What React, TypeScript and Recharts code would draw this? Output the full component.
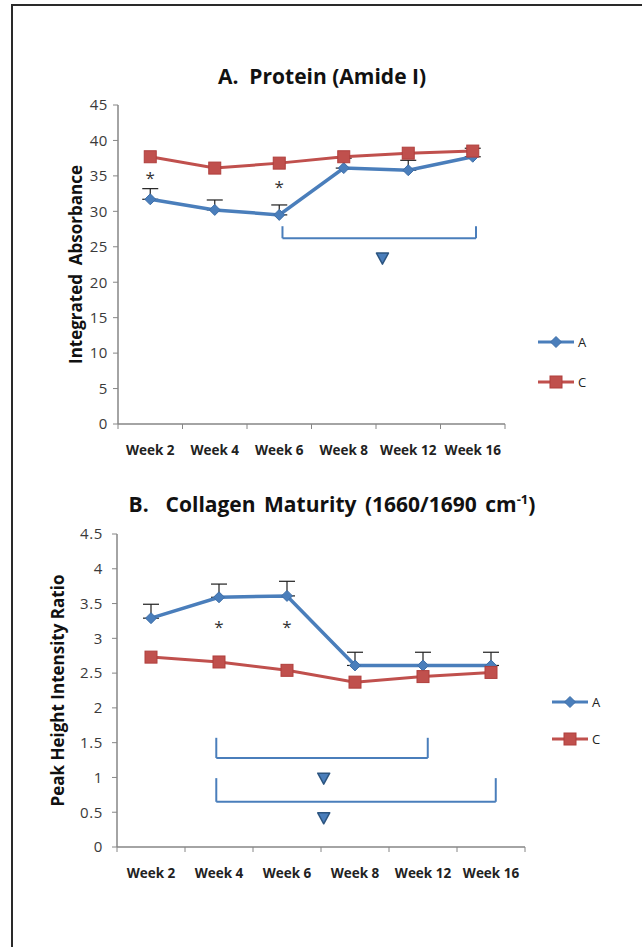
import { ErrorBar, Legend, Line, LineChart, ReferenceDot, ReferenceLine, XAxis, YAxis } from "recharts";

const categories = ["Week 2", "Week 4", "Week 6", "Week 8", "Week 12", "Week 16"];

// A. Protein (Amide I)
const proteinA = [31.7, 30.2, 29.5, 36.1, 35.8, 37.7];
const proteinAErr = [1.5, 1.4, 1.4, 1.4, 1.4, 1.2];
const proteinC = [37.7, 36.1, 36.8, 37.7, 38.2, 38.5];
const proteinTicks = [0, 5, 10, 15, 20, 25, 30, 35, 40, 45];
const proteinStarWeeks = ["Week 2", "Week 6"];
const proteinStarY = [34.7, 33.4];

// B. Collagen maturity
const collagenA = [3.29, 3.59, 3.61, 2.61, 2.61, 2.61];
const collagenAErr = [0.2, 0.19, 0.21, 0.19, 0.19, 0.19];
const collagenC = [2.73, 2.66, 2.54, 2.37, 2.45, 2.51];
const collagenTicks = [0, 0.5, 1, 1.5, 2, 2.5, 3, 3.5, 4, 4.5];
const collagenStarWeeks = ["Week 4", "Week 6"];
const collagenStarY = [3.16, 3.16];

// significance brackets: [from, to, y, top of the ends] and triangle [x, y], in axis units
const proteinBrackets = [[2.55, 5.55, 26.2, 27.9]];
const proteinMarks = [[4.1, 23.4]];
const collagenBrackets = [
  [1.46, 4.57, 1.28, 1.57],
  [1.46, 5.57, 0.65, 0.99],
];
const collagenMarks = [
  [3.04, 0.99],
  [3.04, 0.42],
];

const BLUE = "#4A7EBB";
const RED = "#C0504D";
const AXIS = "#868686";
const FONT = "'Open Sans', 'DejaVu Sans', sans-serif";
const xTicks = [0, 0.5, 1, 1.5, 2, 2.5, 3, 3.5, 4, 4.5, 5, 5.5, 6];

const series = [
  { key: "A", color: BLUE, shape: "diamond" },
  { key: "C", color: RED, shape: "square" },
];

function buildRows(a: number[], aErr: number[], c: number[]) {
  return categories.map((name, i) => ({ pos: i + 0.5, name, A: a[i], AErr: [0, aErr[i]], C: c[i] }));
}

const Diamond = (props: any) => {
  const { cx, cy } = props;
  if (cx == null || cy == null) return <g key={props.key} />;
  return <path key={props.key} d={`M${cx} ${cy - 5.5}L${cx + 5.5} ${cy}L${cx} ${cy + 5.5}L${cx - 5.5} ${cy}Z`} fill={BLUE} stroke="#3E6FA8" strokeWidth={1} />;
};

const Square = (props: any) => {
  const { cx, cy } = props;
  if (cx == null || cy == null) return <g key={props.key} />;
  return <rect key={props.key} x={cx - 6} y={cy - 6} width={12} height={12} fill={RED} stroke="#B03F3C" strokeWidth={1} />;
};

const WeekTick = (props: any) => {
  const { x, y, payload } = props;
  const v = payload.value;
  if (Number.isInteger(v)) return <line x1={x} y1={y} x2={x} y2={y + 5} stroke={AXIS} strokeWidth={1} />;
  return (
    <text x={x} y={y + 26} textAnchor="middle" dominantBaseline="central" fontFamily={FONT} fontSize={13.5} fontWeight={700} fill="#222">
      {categories[Math.floor(v)]}
    </text>
  );
};

const Star = (props: any) => (
  <text x={props.cx} y={props.cy + 6} textAnchor="middle" fontFamily={FONT} fontSize={17} fill="#333">
    *
  </text>
);

const Triangle = (props: any) => {
  const { cx, cy } = props;
  return <path d={`M${cx - 6} ${cy - 5}L${cx + 6} ${cy - 5}L${cx} ${cy + 6}Z`} fill={BLUE} stroke="#2C5580" strokeWidth={1.5} strokeLinejoin="round" />;
};

const yTitle = (text: string, x: number, size: number) => (props: any) => {
  const vb = props.viewBox;
  const cy = vb.y + vb.height / 2;
  return (
    <text transform={`rotate(-90 ${x} ${cy})`} x={x} y={cy} textAnchor="middle" dominantBaseline="central" fontFamily={FONT} fontSize={size} fontWeight={700} fill="#111" style={{ whiteSpace: "pre" }}>
      {text}
    </text>
  );
};

const LegendBox = ({ gap }: { gap: number }) => (
  <div style={{ fontFamily: FONT, fontSize: 13, color: "#222" }}>
    {series.map((s) => (
      <div key={s.key} style={{ display: "flex", alignItems: "center", height: 14, marginBottom: gap }}>
        <svg width={36} height={14}>
          <line x1={0} y1={7} x2={36} y2={7} stroke={s.color} strokeWidth={3} />
          {s.shape === "diamond" ? <Diamond cx={18} cy={7} /> : <Square cx={18} cy={7} />}
        </svg>
        <span style={{ marginLeft: 4 }}>{s.key}</span>
      </div>
    ))}
  </div>
);

function Panel({
  rows,
  ticks,
  max,
  height,
  margin,
  yLabel,
  yLabelX,
  yLabelSize,
  starWeeks,
  starY,
  brackets,
  marks,
  legendPos,
  legendGap,
  tickMargin,
}: any) {
  return (
    <LineChart width={642} height={height} data={rows} margin={margin}>
      <XAxis
        type="number"
        dataKey="pos"
        domain={[0, 6]}
        ticks={xTicks}
        interval={0}
        tick={WeekTick}
        tickLine={false}
        tickSize={0}
        tickMargin={0}
        height={30}
        axisLine={{ stroke: AXIS, strokeWidth: 1.5 }}
      />
      <YAxis
        type="number"
        domain={[0, max]}
        ticks={ticks}
        interval={0}
        width={60}
        tickSize={5}
        tickMargin={tickMargin}
        tick={{ fontFamily: FONT, fontSize: 15, fill: "#3a3a3a", letterSpacing: 0.6 }}
        tickLine={{ stroke: AXIS }}
        axisLine={{ stroke: AXIS, strokeWidth: 1.5 }}
        label={yTitle(yLabel, yLabelX, yLabelSize)}
      />
      {brackets.map((b: number[], i: number) => (
        <ReferenceLine key={`h${i}`} segment={[{ x: b[0], y: b[2] }, { x: b[1], y: b[2] }]} stroke={BLUE} strokeWidth={2} />
      ))}
      {brackets.map((b: number[], i: number) => (
        <ReferenceLine key={`l${i}`} segment={[{ x: b[0], y: b[2] }, { x: b[0], y: b[3] }]} stroke={BLUE} strokeWidth={2} />
      ))}
      {brackets.map((b: number[], i: number) => (
        <ReferenceLine key={`r${i}`} segment={[{ x: b[1], y: b[2] }, { x: b[1], y: b[3] }]} stroke={BLUE} strokeWidth={2} />
      ))}
      {marks.map((m: number[], i: number) => (
        <ReferenceDot key={`m${i}`} x={m[0]} y={m[1]} r={6} shape={Triangle} />
      ))}
      {starWeeks.map((w: string, i: number) => (
        <ReferenceDot key={`s${i}`} x={categories.indexOf(w) + 0.5} y={starY[i]} r={4} shape={Star} />
      ))}
      <Line type="linear" dataKey="A" name="A" stroke={BLUE} strokeWidth={3.5} dot={Diamond} activeDot={false} isAnimationActive={false}>
        <ErrorBar dataKey="AErr" direction="y" width={8} stroke="#1f1f1f" strokeWidth={1.2} isAnimationActive={false} />
      </Line>
      <Line type="linear" dataKey="C" name="C" stroke={RED} strokeWidth={3} dot={Square} activeDot={false} isAnimationActive={false} />
      <Legend
        layout="vertical"
        align="center"
        verticalAlign="middle"
        wrapperStyle={{ left: legendPos[0], top: legendPos[1], width: 70 }}
        content={() => <LegendBox gap={legendGap} />}
      />
    </LineChart>
  );
}

export default function App() {
  const proteinRows = buildRows(proteinA, proteinAErr, proteinC);
  const collagenRows = buildRows(collagenA, collagenAErr, collagenC);
  const titleStyle = {
    position: "absolute" as const,
    width: 520,
    textAlign: "center" as const,
    fontFamily: FONT,
    fontWeight: 700,
    fontSize: 21,
    color: "#111",
    whiteSpace: "pre" as const,
  };
  return (
    <div style={{ position: "absolute", left: 0, top: 0, width: 642, height: 947, background: "#fff", overflow: "hidden" }}>
      <div style={{ position: "absolute", left: 11, top: 4, right: 0, bottom: 0, borderTop: "2px solid #2a2a2a", borderLeft: "2px solid #2a2a2a" }} />
      <div style={{ ...titleStyle, left: 62, top: 62 }}>A.  Protein (Amide I)</div>
      <div style={{ ...titleStyle, left: 72, top: 490, wordSpacing: 3 }}>
        B.  Collagen Maturity (1660/1690 cm<sup style={{ fontSize: 13 }}>-1</sup>)
      </div>
      <div style={{ position: "absolute", left: 0, top: 0 }}>
        <Panel
          rows={proteinRows}
          ticks={proteinTicks}
          max={45}
          height={470}
          margin={{ top: 105, right: 137, left: 58, bottom: 16 }}
          yLabel="Integrated  Absorbance"
          yLabelX={75}
          yLabelSize={17}
          starWeeks={proteinStarWeeks}
          starY={proteinStarY}
          brackets={proteinBrackets}
          marks={proteinMarks}
          legendPos={[538, 335]}
          legendGap={26}
          tickMargin={5}
        />
      </div>
      <div style={{ position: "absolute", left: 0, top: 470 }}>
        <Panel
          rows={collagenRows}
          ticks={collagenTicks}
          max={4.5}
          height={420}
          margin={{ top: 64, right: 117, left: 57, bottom: 13 }}
          yLabel="Peak Height Intensity Ratio"
          yLabelX={57}
          yLabelSize={17}
          starWeeks={collagenStarWeeks}
          starY={collagenStarY}
          brackets={collagenBrackets}
          marks={collagenMarks}
          legendPos={[552, 225]}
          legendGap={23}
          tickMargin={9}
        />
      </div>
    </div>
  );
}
